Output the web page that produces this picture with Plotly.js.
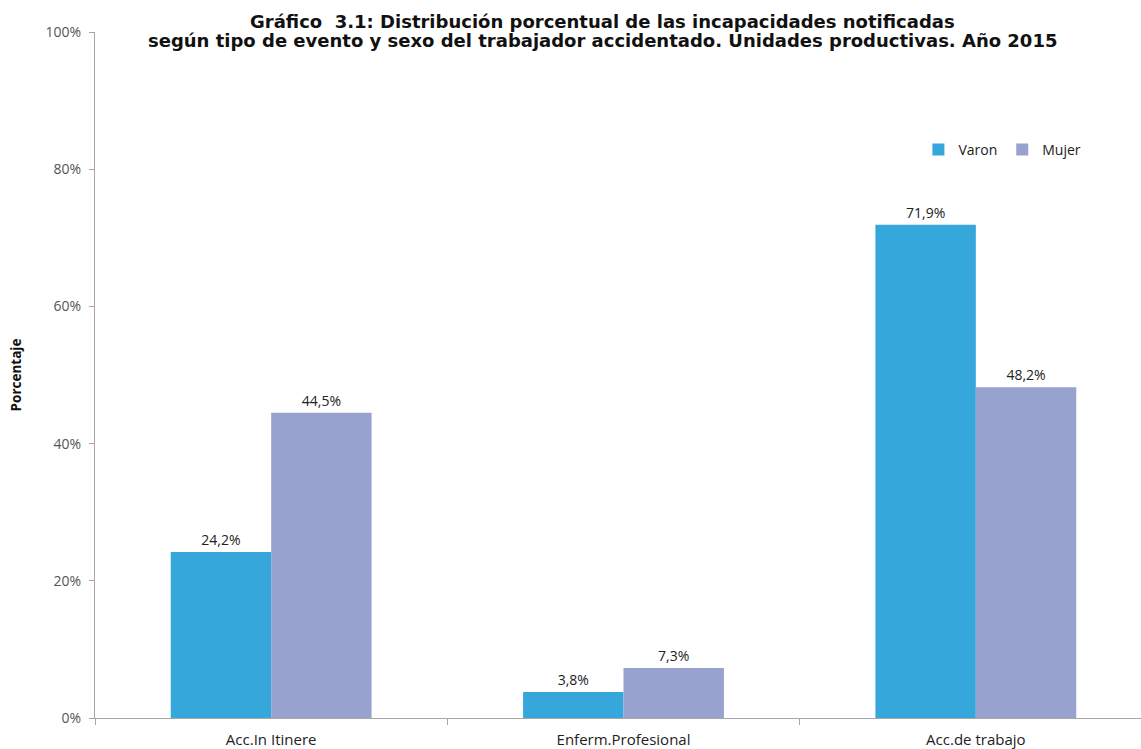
<!DOCTYPE html>
<html><head><meta charset="utf-8">
<script src="https://cdn.plot.ly/plotly-3.0.1.min.js"></script>
<style>html,body{margin:0;padding:0;overflow:hidden;background:#fff}#c{width:1152px;height:749px}</style>
</head><body><div id="c"></div>
<script>
const categories = ["Acc.In Itinere", "Enferm.Profesional", "Acc.de trabajo"];
const varon = [24.2, 3.8, 71.9];
const mujer = [44.5, 7.3, 48.2];
const yTickVals = [0, 20, 40, 60, 80, 100];
const yTickText = ["0%", "20%", "40%", "60%", "80%", "100%"];
const titleLines = ["Gráfico  3.1: Distribución porcentual de las incapacidades notificadas",
  "según tipo de evento y sexo del trabajador accidentado. Unidades productivas. Año 2015"];
const fmt = v => v.toFixed(1).replace('.', ',') + '%';
const lblFont = {family: "Open Sans, Liberation Sans, sans-serif", size: 14, color: "#222"};
const traces = [
  {type: "bar", name: "Varon", x: categories, y: varon, marker: {color: "#35A7DA"},
   text: varon.map(fmt), textposition: "outside", cliponaxis: false, textfont: lblFont, hoverinfo: "skip"},
  {type: "bar", name: "Mujer", x: categories, y: mujer, marker: {color: "#97A2CF"},
   text: mujer.map(fmt), textposition: "outside", cliponaxis: false, textfont: lblFont, hoverinfo: "skip"}
];
const titleFont = {family: "DejaVu Sans, sans-serif", size: 18, color: "#111"};
const layout = {
  width: 1152, height: 749,
  margin: {l: 95, r: 0, t: 32, b: 31, pad: 0},
  paper_bgcolor: "#fff", plot_bgcolor: "#fff",
  barmode: "group", bargap: 0.43, bargroupgap: 0,
  font: {family: "Open Sans, Liberation Sans, sans-serif", color: "#595959"},
  annotations: [
    {text: "<b>" + titleLines[0] + "</b>", xref: "paper", yref: "paper", x: 0.4806, y: 1.0153,
     xanchor: "center", yanchor: "middle", showarrow: false, font: titleFont},
    {text: "<b>" + titleLines[1] + "</b>", xref: "paper", yref: "paper", x: 0.4806, y: 0.9875,
     xanchor: "center", yanchor: "middle", showarrow: false, font: titleFont}
  ],
  xaxis: {type: "category", tickson: "boundaries", ticks: "outside", ticklen: 6, tickcolor: "#a6a6a6",
    showline: true, linecolor: "#a6a6a6", linewidth: 1, showgrid: false, zeroline: false,
    ticklabelstandoff: 8,
    tickfont: {size: 15, color: "#222"}, range: [-0.5, 2.5]},
  yaxis: {range: [0, 100], tickvals: yTickVals, ticktext: yTickText, ticks: "outside", ticklen: 5, tickcolor: "#a6a6a6",
    showline: true, linecolor: "#a6a6a6", linewidth: 1, showgrid: false, zeroline: false,
    ticklabelstandoff: 5,
    tickfont: {size: 14, color: "#555"},
    title: {text: "<b>Porcentaje</b>", standoff: 20, font: {size: 13.5, color: "#111"}}},
  legend: {orientation: "h", x: 0.779, y: 0.828, xanchor: "left", yanchor: "middle",
    font: {size: 14, color: "#222"}, bgcolor: "rgba(0,0,0,0)", itemwidth: 30, traceorder: "normal"},
  showlegend: true
};
Plotly.newPlot("c", traces, layout, {displayModeBar: false, staticPlot: true});
</script></body></html>
